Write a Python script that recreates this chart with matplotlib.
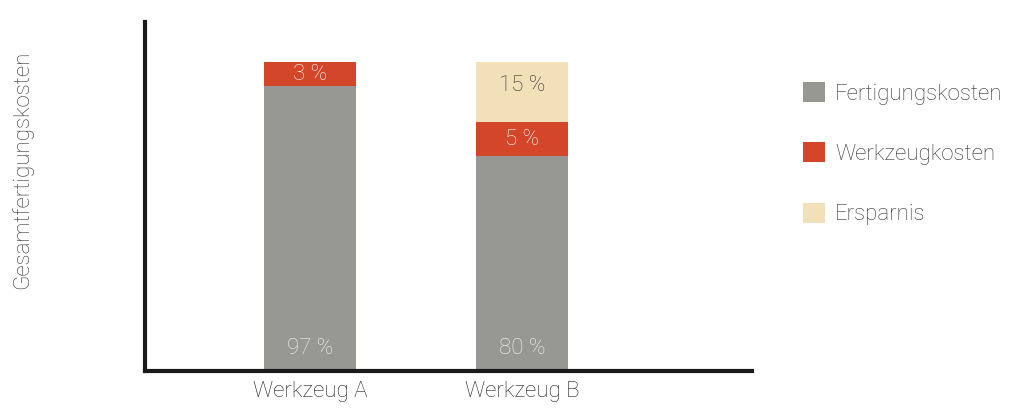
import matplotlib.pyplot as plt

plt.rcParams['font.family'] = ['Roboto', 'DejaVu Sans']

# data (bar heights as drawn, labels as printed)
tools = ['Werkzeug A', 'Werkzeug B']
series = ['Fertigungskosten', 'Werkzeugkosten', 'Ersparnis']
fertigung = [92.2, 69.5]
werkzeug = [7.8, 11.0]
ersparnis = [0.0, 19.5]
lab_fertigung = ['97 %', '80 %']
lab_werkzeug = ['3 %', '5 %']
lab_ersparnis = ['', '15 %']

colors = ['#979894', '#d4462a', '#f2e0b8']

fig = plt.figure(figsize=(10.24, 4.08), dpi=100)
ax = fig.add_axes([145/1024, 1-370.5/408, (752-145)/1024, 348.5/408])

x = range(len(tools))
w = 0.43
ax.bar(x, fertigung, w, color=colors[0], label=series[0])
ax.bar(x, werkzeug, w, bottom=fertigung, color=colors[1], label=series[1])
bot2 = [a + b for a, b in zip(fertigung, werkzeug)]
ax.bar(x, ersparnis, w, bottom=bot2, color=colors[2], label=series[2])

for i in x:
    ax.text(i, 7, lab_fertigung[i], ha='center', va='center', color='#f2f2f2',
            fontsize=16, fontweight='light')
    ax.text(i, fertigung[i] + werkzeug[i] / 2, lab_werkzeug[i], ha='center', va='center',
            color='#f8f8f8', fontsize=16, fontweight='light')
    if lab_ersparnis[i]:
        ax.text(i, bot2[i] + ersparnis[i] / 2 + 2.2, lab_ersparnis[i], ha='center', va='center',
                color='#333333', fontsize=16, fontweight='light')

ax.set_xlim(-0.778, 2.085)
ax.set_ylim(0, 113)
ax.set_xticks(list(x))
ax.set_xticklabels(tools, fontsize=16, color='#222222', fontweight='light')
ax.set_yticks([])
ax.tick_params(axis='x', length=0, pad=7.5)
for s in ['top', 'right']:
    ax.spines[s].set_visible(False)
for s in ['left', 'bottom']:
    ax.spines[s].set_linewidth(3)
    ax.spines[s].set_color('#1a1a1a')

fig.text(22/1024, 1-170/408, 'Gesamtfertigungskosten', rotation=90, ha='center', va='center',
         fontsize=16, color='#333333', fontweight='light')

fig.legend(loc='upper left', bbox_to_anchor=(803/1024, 1-82/408), frameon=False,
           handlelength=1.0, handleheight=1.0, labelspacing=1.7,
           handletextpad=0.45, borderpad=0, borderaxespad=0, labelcolor='#333333',
           prop={'weight': 'light', 'size': 16})

fig.savefig('out.png', dpi=100)
